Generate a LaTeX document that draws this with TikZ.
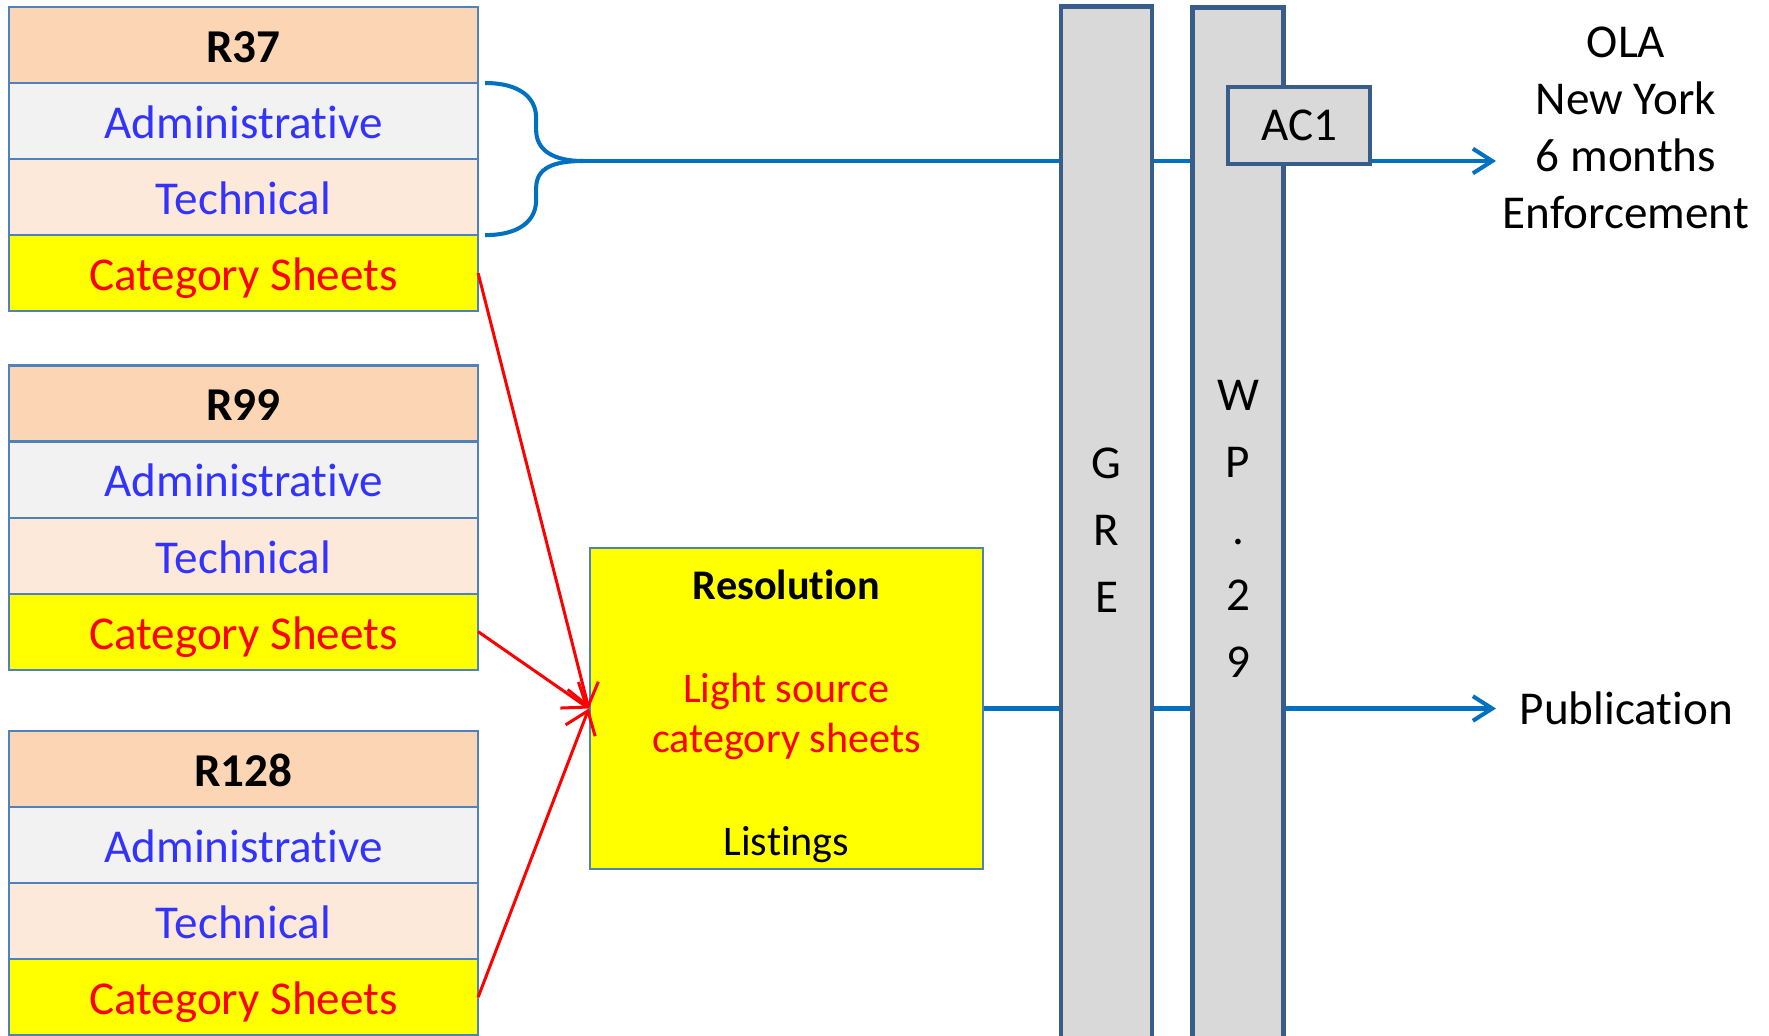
\documentclass[tikz,border=0pt]{standalone}
\usepackage{fontspec}
\setmainfont{Carlito}[Ligatures={NoCommon,NoRare,NoContextual}]
\usetikzlibrary{positioning,arrows.meta}

\definecolor{hdrfill}{HTML}{FCD5B4}
\definecolor{admfill}{HTML}{F2F2F2}
\definecolor{tecfill}{HTML}{FDE9D9}
\definecolor{catfill}{HTML}{FFFF00}
\definecolor{rowline}{HTML}{4F81BD}
\definecolor{barfill}{HTML}{D9D9D9}
\definecolor{barline}{HTML}{385D8A}
\definecolor{linkblue}{HTML}{0070C0}
\definecolor{txtblue}{HTML}{3333FF}

\tikzset{
  row/.style={draw=rowline, line width=0.6pt, minimum width=4.69cm, minimum height=0.76cm,
    inner sep=0pt, outer sep=0pt, text height=11.2pt, text depth=1.3pt,
    font=\fontsize{13.4}{16}\selectfont},
  hdr/.style={row, fill=hdrfill, font=\fontsize{13.4}{16}\selectfont\bfseries},
  adm/.style={row, fill=admfill, text=txtblue},
  tec/.style={row, fill=tecfill, text=txtblue},
  cat/.style={row, fill=catfill, text=red},
  bar/.style={draw=barline, fill=barfill, line width=1.3pt, minimum width=0.91cm,
    align=center, font=\fontsize{13.4}{19}\selectfont},
  link/.style={draw=linkblue, line width=1.15pt},
  feed/.style={draw=red, line width=0.85pt, -{Straight Barb[length=6pt,width=9pt]}},
  tip/.style={-{Straight Barb[length=5.5pt,width=7pt]}},
  txt/.style={font=\fontsize{13.4}{16.2}\selectfont, inner sep=0pt},
}

\begin{document}
\begin{tikzpicture}[x=0.01cm, y=-0.01cm]
  \clip (0,0) rectangle (1769,1036);
  \fill[white] (0,0) rectangle (1769,1036);

  % regulation R37
  \node[hdr] (r37) at (243.5,45) {R37};
  \node[adm, below=0pt of r37] (r37a) {Administrative};
  \node[tec, below=0pt of r37a] (r37t) {Technical};
  \node[cat, below=0pt of r37t] (r37c) {Category Sheets};

  % regulation R99
  \node[hdr] (r99) at (243.5,403.5) {R99};
  \node[adm, below=0pt of r99] (r99a) {Administrative};
  \node[tec, below=0pt of r99a] (r99t) {Technical};
  \node[cat, below=0pt of r99t] (r99c) {Category Sheets};

  % regulation R128
  \node[hdr] (r128) at (243.5,769) {R128};
  \node[adm, below=0pt of r128] (r128a) {Administrative};
  \node[tec, below=0pt of r128a] (r128t) {Technical};
  \node[cat, below=0pt of r128t] (r128c) {Category Sheets};

  % new resolution
  \node[draw=rowline, line width=0.6pt, fill=catfill, minimum width=3.93cm, minimum height=3.21cm,
    inner sep=0pt, align=center, font=\fontsize{12}{14.2}\selectfont] (res) at (786.5,708.5)
    {\rule{0pt}{12.6pt}\textbf{Resolution}\\[15.1pt]\textcolor{red}{Light source}\\\textcolor{red}{category sheets}\\[15.1pt]Listings};

  % outputs
  \node[txt, align=center] (ola) at (1626,127.5) {OLA\\New York\\6 months\\Enforcement};
  \node[txt, anchor=west, inner xsep=0.23cm] (pub) at (1496,708.5) {Publication};
  \coordinate (olaend) at (1496,161);

  % brace round admin and technical parts
  \coordinate (brtop) at ([xshift=0.07cm]r37a.north east);
  \coordinate (brbot) at ([xshift=0.07cm]r37t.south east);
  \coordinate (brtip) at (583,161);
  \draw[link] (brtop) .. controls +(35,0) and +(0,-20) .. ++(51,35) -- ++(0,12)
    .. controls +(0,20) and +(-30,0) .. (brtip);
  \draw[link] (brbot) .. controls +(35,0) and +(0,20) .. ++(51,-35) -- ++(0,-12)
    .. controls +(0,-20) and +(-30,0) .. (brtip);
  \draw[link, tip] (brtip) -- (olaend);
  \draw[link, tip] (res.east) -- (res.east -| pub.west);

  % category sheets into the resolution
  \draw[feed] (r37c.east) -- (res.west);
  \draw[feed] (r99c.east) -- (res.west);
  \draw[feed] (r128c.east) -- (res.west);

  % working party bars
  \node[bar, minimum height=10.46cm] (gre) at (1106.5,530) {G\\R\\E};
  \node[bar, minimum height=10.42cm] (wp) at (1238,529) {W\\P\\.\\2\\9};
  \node[bar, minimum width=1.42cm, minimum height=0.77cm] (ac1) at (1299,125.5) {AC1};
\end{tikzpicture}
\end{document}
